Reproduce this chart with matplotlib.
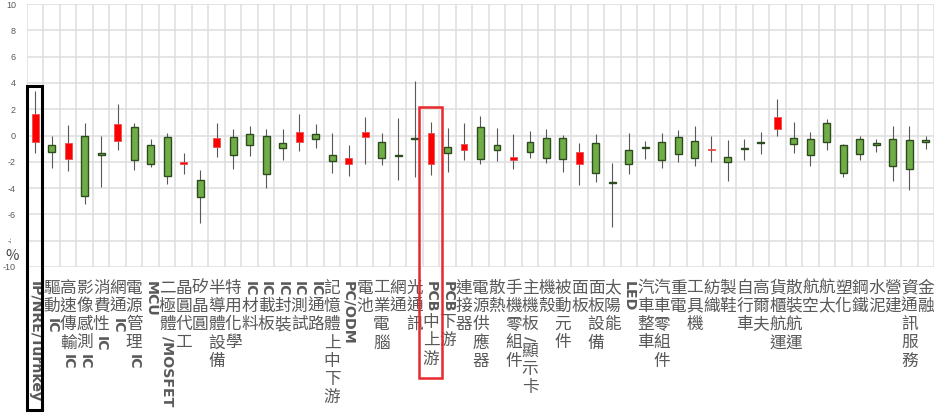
import re
import matplotlib
matplotlib.use('Agg')
import matplotlib.pyplot as plt
from matplotlib.patches import Rectangle
from matplotlib.transforms import blended_transform_factory
import numpy as np

categories = [
    'IP/NRE/Turnkey', '驅動IC', '高速傳輸IC', '影像感測IC', '消費性IC', '網通IC', '電源管理IC',
    'MCU', '二極體/MOSFET', '晶圓代工', '矽晶圓', '半導體設備', '特用化學', 'IC材料', 'IC載板',
    'IC封裝', 'IC測試', 'IC通路', '記憶體上中下游', 'PC/ODM', '電池', '工業電腦', '網通', '光通訊',
    'PCB中上游', 'PCB下游', '連接器', '電源供應器', '散熱', '手機零組件', '主機板/顯示卡', '機殼',
    '被動元件', '面板', '面板設備', '太陽能', 'LED', '汽車整車', '汽車零組件', '重電', '工具機',
    '紡織', '製鞋', '自行車', '高爾夫', '貨櫃航運', '散裝航運', '航空', '航太', '塑化', '鋼鐵',
    '水泥', '營建', '資通訊服務', '金融',
]
opens = [
    -0.50, -0.69, -1.80, 0.00, -1.35, -0.45, 0.65, -0.76, -0.08, -2.15, -3.38, -0.86, -0.08, 0.08,
    -0.03, -0.56, -0.48, 0.08, -1.45, -2.18, -0.13, -0.53, -1.45, -0.20, -2.16, -0.84, -1.12, 0.66,
    -0.76, -1.85, -0.50, -0.20, -0.18, -2.13, -0.58, -3.50, -1.07, -0.85, -0.48, -0.13, -0.41, -1.08,
    -1.65, -0.94, -0.50, 0.46, -0.20, -0.23, 0.96, -0.76, -0.30, -0.56, -0.25, -0.38, -0.38,
]
closes = [
    1.62, -1.24, -0.56, -4.57, -1.45, 0.90, -1.85, -2.15, -3.07, -2.05, -4.64, -0.20, -1.47, -0.76,
    -2.92, -0.94, 0.28, -0.23, -1.93, -1.68, 0.30, -1.73, -1.55, -0.30, 0.18, -1.32, -0.63, -1.78,
    -1.07, -1.60, -1.27, -1.70, -1.78, -1.27, -2.82, -3.60, -2.20, -0.93, -1.83, -1.37, -1.70, -1.00,
    -1.98, -1.05, -0.56, 1.42, -0.61, -1.47, -0.46, -2.84, -1.40, -0.74, -2.31, -2.51, -0.51,
]
highs = [
    3.40, 0.00, 0.80, 0.95, 0.00, 2.40, 0.95, -0.28, 0.18, -1.30, -2.64, 0.94, 0.46, 0.69,
    0.53, 0.53, 1.62, 0.91, 0.18, -0.74, 1.40, 0.18, 1.35, 4.14, 1.00, 0.56, 0.94, 1.45,
    0.58, 0.08, 0.38, 0.48, 0.05, -0.58, 0.10, -2.06, 0.18, -0.43, 0.18, 0.41, 0.74, -0.03,
    -0.38, -0.25, 0.28, 2.74, 1.02, 0.23, 1.27, -0.61, -0.05, -0.23, 0.71, 0.69, 0.00,
]
lows = [
    -1.35, -2.50, -2.70, -5.20, -3.90, -1.10, -2.65, -2.40, -3.68, -2.90, -6.67, -1.60, -2.54, -1.55,
    -4.00, -1.90, -1.17, -0.94, -2.82, -3.07, -2.18, -2.28, -3.40, -3.12, -2.97, -2.77, -1.85, -2.20,
    -1.93, -2.56, -1.70, -2.08, -2.77, -3.80, -3.50, -6.93, -2.92, -1.78, -2.49, -1.98, -2.30, -1.98,
    -3.43, -1.88, -1.40, -0.03, -1.32, -2.31, -1.14, -3.12, -1.88, -1.29, -3.48, -4.14, -0.99,
]
yticks = [10, 8, 6, 4, 2, 0, -2, -4, -6, -8, -10]
ytick_labels = ['10', '8', '6', '4', '2', '0', '-2', '-4', '-6', '-8', '-10']
y_unit = '%'
highlight_black = 'IP/NRE/Turnkey'
highlight_red = 'PCB中上游'

W, H = 936, 413
fig = plt.figure(figsize=(W / 100, H / 100), dpi=100)
ax = fig.add_axes([27 / W, 1 - 267 / H, 907 / W, 263 / H])
n = len(categories)
x = np.arange(n)
ax.set_xlim(-0.5, n - 0.5)
ax.set_ylim(-10, 10)
ax.set_xticks(np.arange(-0.5, n, 1.0))
ax.set_xticklabels([])
ax.set_yticks(yticks)
ax.set_yticklabels(ytick_labels, family='Liberation Sans')
ax.tick_params(length=0, labelsize=6.5, labelcolor='#595959', pad=8)
ax.grid(True, color='#dedede', lw=1.1)
ax.set_axisbelow(True)
for s in ax.spines.values():
    s.set_visible(False)

o = np.array(opens)
c = np.array(closes)
up = c >= o
bottoms = np.minimum(o, c)
heights = np.abs(c - o)
ax.vlines(x, lows, highs, color='#595959', lw=0.8, zorder=2)
ax.bar(x[up], heights[up], 0.42, bottom=bottoms[up], color='#ff0000',
       edgecolor='#e85050', lw=0.6, zorder=3)
ax.bar(x[~up], heights[~up], 0.42, bottom=bottoms[~up], color='#70ad47',
       edgecolor='#2e4b1f', lw=1.0, zorder=3)

# vertical category labels
cjk = ['Noto Sans CJK TC', 'DejaVu Sans']
latin = ['DejaVu Sans']
renderer = fig.canvas.get_renderer()
label_color = '#595959'
for i, lab in enumerate(categories):
    xf = ax.transData.transform((i, 0))[0] / W
    cur = 279.5
    for tok in re.findall(r'[A-Za-z/]+|.', lab):
        if ord(tok[0]) < 128:
            t = fig.text(xf, 1 - (cur + 1.5) / H, tok, rotation=-90, ha='center', va='top',
                         fontsize=10.2, fontweight='bold', color=label_color, family=latin)
            bb = t.get_window_extent(renderer)
            cur += bb.height + 3
        else:
            fig.text(xf, 1 - cur / H, tok, ha='center', va='top', fontsize=12,
                     color=label_color, family=cjk)
            cur += 18.3

# unit label with white cover
fig.add_artist(Rectangle((10.5 / W, 1 - 248 / H), 7 / W, 13 / H, transform=fig.transFigure,
                         facecolor='white', edgecolor='none', zorder=5))
fig.text(12 / W, 1 - 256 / H, y_unit, ha='center', va='center', fontsize=10.5,
         color='#404040', family=cjk, zorder=6)

# highlight boxes
trans = blended_transform_factory(ax.transData, fig.transFigure)
bi = categories.index(highlight_black)
fig.add_artist(Rectangle((bi - 0.5, 1 - 410 / H), 0.9, (410 - 86) / H, transform=trans,
                         fill=False, edgecolor='black', lw=2.2, zorder=10))
ri = categories.index(highlight_red)
fig.add_artist(Rectangle((ri - 0.72, 1 - 378 / H), 1.38, (378 - 107) / H, transform=trans,
                         fill=False, edgecolor='#e8282c', lw=1.8, zorder=10))

fig.savefig('out.png', dpi=100)
